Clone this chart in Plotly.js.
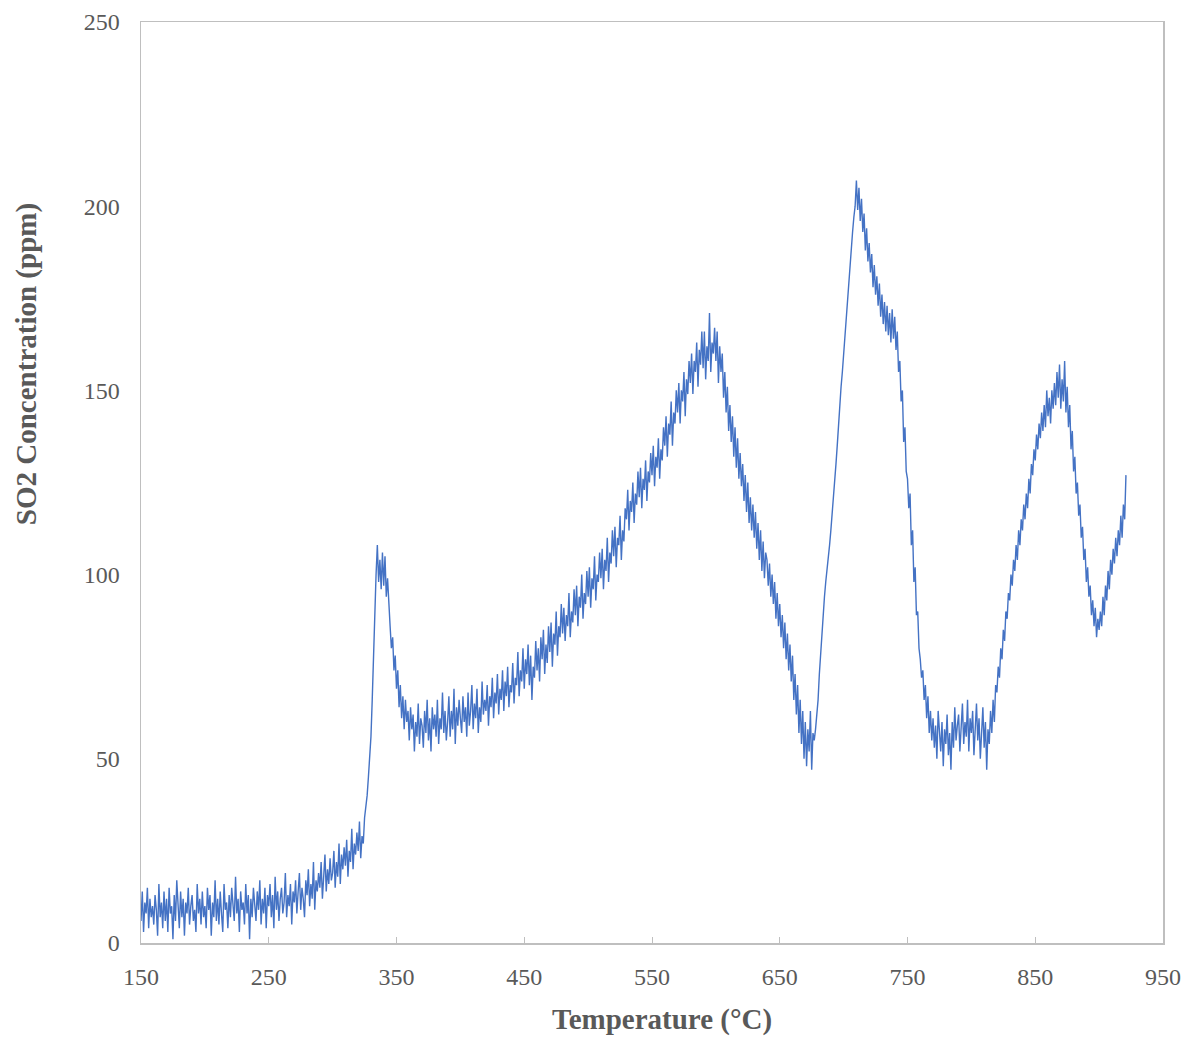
<!DOCTYPE html>
<html>
<head>
<meta charset="utf-8">
<script src="https://cdn.plot.ly/plotly-3.0.1.min.js"></script>
<style>html,body{margin:0;padding:0;background:#fff;}#chart{width:1187px;height:1040px;}</style>
</head>
<body>
<div id="chart"></div>
<script>
// Temperature sampling (°C): first reading and spacing between readings
const tempStart = 150;
const tempStep = 1;

// SO2 concentration readings (ppm), one per degree from 150 °C
const so2 = [
  6,14,3,11,8,15,4,12,7,10,
  5,13,9,2,16,7,11,4,14,6,
  12,3,15,8,10,1,13,6,17,9,
  4,14,7,12,2,11,8,15,5,10,
  13,6,9,3,16,8,12,5,14,7,
  10,4,15,9,13,2,11,7,17,6,
  12,5,14,8,3,16,9,11,4,13,
  7,15,10,6,18,8,12,3,14,9,
  11,5,16,8,13,1,12,7,15,10,
  6,14,9,17,5,12,8,15,4,13,
  10,16,7,13,4,18,9,14,6,12,
  15,8,11,19,7,13,10,16,5,14,
  11,17,8,14,19,9,15,12,7,17,
  13,20,10,16,12,22,9,17,14,19,
  15,22,12,18,24,14,20,16,23,17,
  19,25,15,22,18,27,16,24,20,26,
  21,28,18,25,22,31,20,27,24,30,
  25,33,23,29,27,34,37,40,45,50,
  56,66,80,92,100,108,98,104,96,106,
  97,105,94,99,90,86,80,83,74,78,
  69,74,64,70,61,67,58,66,60,63,
  55,64,58,62,52,60,56,65,54,61,
  59,53,63,57,66,55,61,52,64,58,
  62,56,66,54,61,58,68,57,63,55,
  60,67,56,63,58,69,54,64,59,66,
  61,57,67,60,64,56,68,59,63,70,
  58,65,61,69,57,64,60,71,62,66,
  63,70,59,67,64,72,61,68,65,73,
  62,69,66,74,63,71,67,75,64,70,
  68,76,65,72,70,79,67,74,71,80,
  69,77,73,81,70,78,66,75,72,82,
  74,80,71,83,77,85,73,81,76,86,
  79,87,75,84,81,90,78,86,83,92,
  84,91,82,89,86,95,83,90,87,96,
  89,97,86,94,91,100,88,95,92,101,
  94,102,91,99,96,105,93,100,98,106,
  99,107,96,104,101,110,98,106,103,112,
  105,113,102,110,108,116,104,112,109,118,
  115,123,112,120,117,125,114,122,119,128,
  121,129,118,126,123,131,120,128,125,133,
  127,135,124,132,129,137,126,134,131,140,
  135,143,132,141,138,147,135,144,141,150,
  144,152,141,150,147,155,143,153,149,158,
  152,160,149,158,155,163,151,161,157,166,
  156,166,153,162,158,171,155,163,160,167,
  158,166,152,162,155,160,148,155,144,151,
  139,146,136,143,132,140,129,137,126,133,
  124,130,120,127,117,125,114,121,112,119,
  110,117,107,114,104,112,101,109,99,106,
  104,97,103,94,100,92,98,88,95,86,
  92,83,89,80,87,77,84,74,81,71,
  78,66,73,62,70,57,66,54,63,50,
  60,48,58,52,63,47,57,55,58,62,
  66,73,79,85,90,94,98,101,104,108,
  112,116,120,125,130,135,141,147,151,155,
  160,165,169,173,178,183,188,193,197,200,
  207,199,205,196,202,193,198,188,194,185,
  190,182,187,178,184,176,181,173,179,170,
  176,168,174,166,173,165,171,163,172,164,
  170,161,166,155,158,147,150,136,140,128,
  126,118,122,108,112,98,102,89,90,80,
  77,72,74,66,70,61,67,57,63,55,
  61,53,59,50,63,56,52,60,48,58,
  54,62,51,57,47,60,53,64,55,59,
  62,52,58,65,54,60,56,66,52,61,
  57,63,51,59,65,55,61,50,58,64,
  53,60,47,58,54,63,57,66,60,70,
  68,75,72,80,77,85,82,90,88,95,
  93,100,97,104,101,108,104,112,108,115,
  112,119,115,122,118,126,122,130,127,134,
  131,138,134,141,137,144,139,146,140,150,
  143,148,141,150,145,152,146,155,148,157,
  145,153,147,158,144,151,140,146,134,139,
  128,132,122,125,116,119,110,113,104,107,
  98,102,94,97,89,93,86,91,83,88,
  85,90,86,94,89,97,93,101,96,104,
  100,107,103,110,105,112,108,116,110,119,
  115,127
];

const xTickVals = [150, 250, 350, 450, 550, 650, 750, 850, 950];
const yTickVals = [0, 50, 100, 150, 200, 250];
const xTitle = 'Temperature (°C)';
const yTitle = 'SO2 Concentration (ppm)';

const gray = '#595959';
const axisColor = '#bfbfbf';
const serif = '"Liberation Serif", "Times New Roman", serif';

const trace = {
  type: 'scatter',
  mode: 'lines',
  x0: tempStart,
  dx: tempStep,
  y: so2,
  line: {color: '#4472C4', width: 1.4},
  hoverinfo: 'x+y'
};

const layout = {
  width: 1187,
  height: 1040,
  paper_bgcolor: '#ffffff',
  plot_bgcolor: '#ffffff',
  showlegend: false,
  margin: {l: 141, r: 24, t: 22, b: 97},
  font: {family: serif, color: gray, size: 24},
  xaxis: {
    range: [150, 950],
    tickvals: xTickVals,
    ticktext: xTickVals.map(String),
    showgrid: false,
    zeroline: false,
    showline: true,
    linecolor: axisColor,
    linewidth: 1.5,
    mirror: true,
    ticks: 'inside',
    ticklen: 6,
    tickcolor: axisColor,
    tickfont: {family: serif, size: 24, color: gray},
    ticklabelstandoff: 12
  },
  yaxis: {
    range: [0, 250],
    tickvals: yTickVals,
    ticktext: yTickVals.map(String),
    showgrid: false,
    zeroline: false,
    showline: true,
    linecolor: axisColor,
    linewidth: 1.5,
    mirror: true,
    ticks: '',
    tickfont: {family: serif, size: 24, color: gray},
    ticklabelstandoff: 15
  },
  annotations: [
    {
      text: '<b>' + xTitle + '</b>',
      xref: 'paper', yref: 'paper',
      x: 0.51, y: -0.083,
      xanchor: 'center', yanchor: 'middle',
      showarrow: false,
      font: {family: serif, size: 29, color: gray}
    },
    {
      text: '<b>' + yTitle + '</b>',
      xref: 'paper', yref: 'paper',
      x: -0.112, y: 0.628,
      xanchor: 'center', yanchor: 'middle',
      textangle: -90,
      showarrow: false,
      font: {family: serif, size: 29, color: gray}
    }
  ]
};

Plotly.newPlot('chart', [trace], layout, {staticPlot: true, displayModeBar: false});
</script>
</body>
</html>
